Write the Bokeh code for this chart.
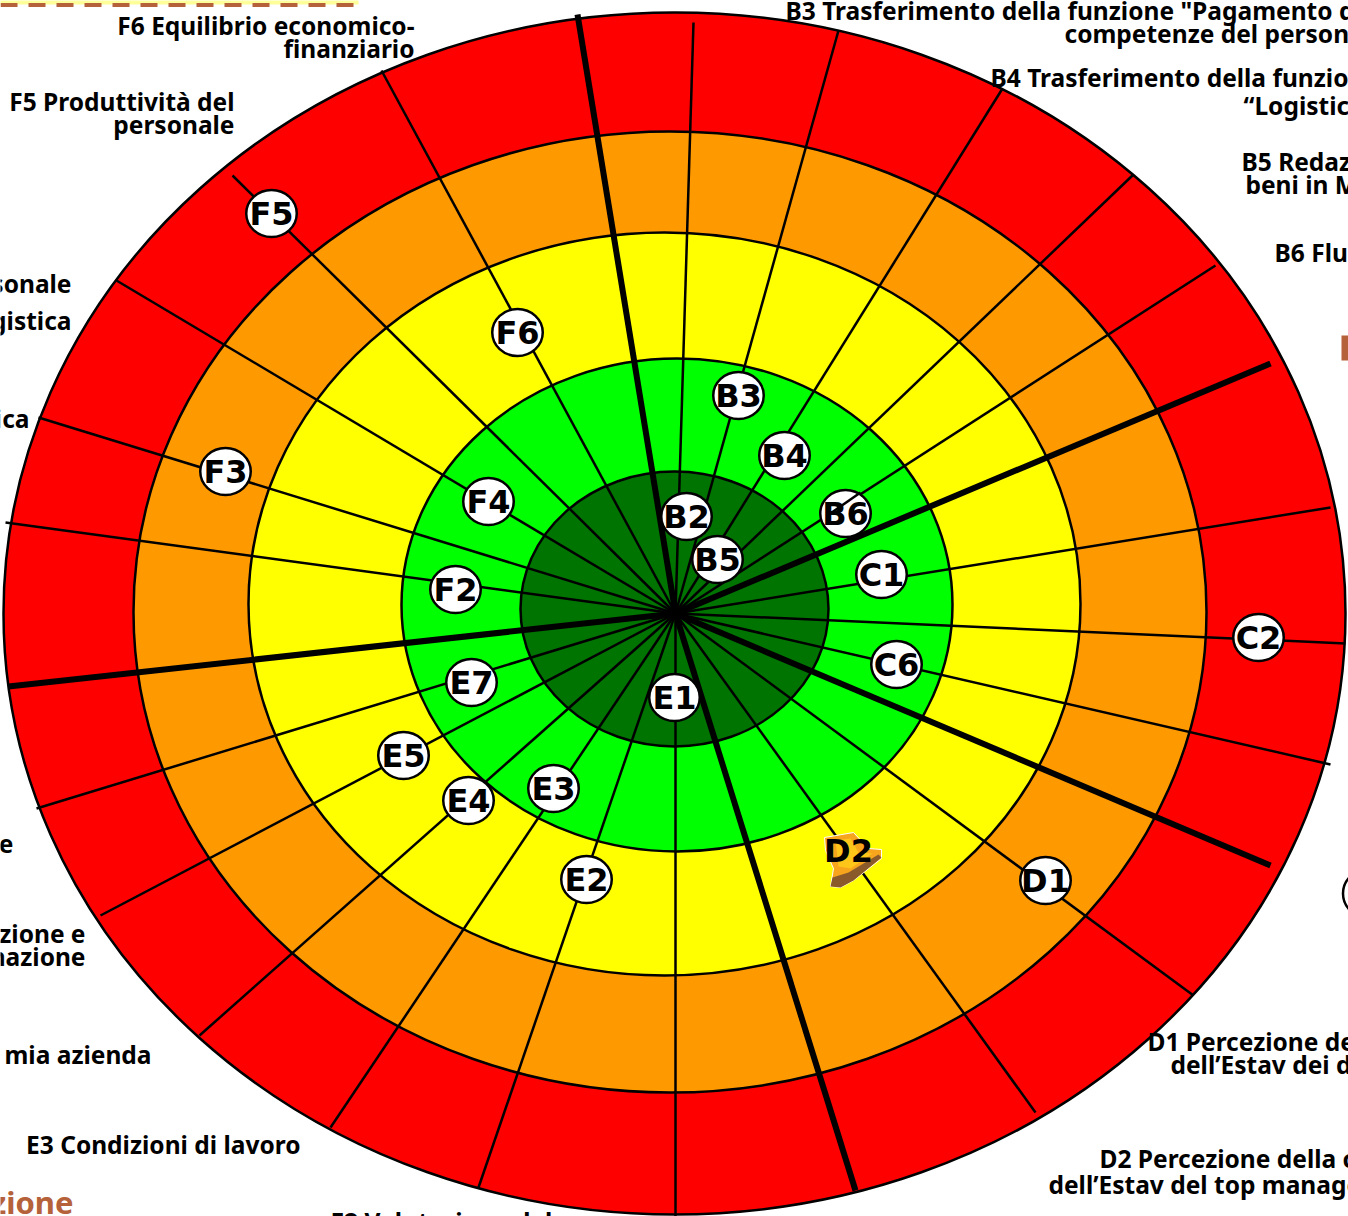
from bokeh.plotting import figure
from bokeh.models import Range1d
from bokeh.core.properties import value
from bokeh.embed import file_html
from bokeh.resources import INLINE

# rings, outer to inner
ring_colors = ["#ff0000", "#ff9900", "#ffff00", "#00ff00", "#007400"]
ring_cx = [674, 669.5, 664, 676.5, 674]
ring_cy = [613, 611.5, 603.5, 604.5, 608.5]
ring_w = [1342, 1073, 832, 551, 308]
ring_h = [1202, 961, 743, 493, 275]

hub_x = 675
hub_y = 613
spoke_x = [693, 838, 1002, 1133, 1215, 1330, 1345, 1330, 1193, 1035, 675, 478, 330, 199, 100, 36, 5, 38, 116, 232, 381]
spoke_y = [22, 30, 88, 174, 265, 507, 643, 764, 995, 1112, 1216, 1187, 1127, 1035, 915, 808, 522, 417, 280, 175, 70]
divider_x = [577, 1270, 1270, 855, 8]
divider_y = [14, 363, 865, 1190, 686]

marker_names = ["F5", "F6", "B3", "B4", "B6", "C1", "C2", "C6", "D1", "E1", "E2", "E3", "E4", "E5", "E7", "F2", "F3", "F4", "B2", "B5"]
marker_x = [271, 517, 738, 784, 845, 881, 1258, 896, 1045, 674, 586, 553, 468, 403, 471, 455, 225, 488, 686, 717]
marker_y = [213, 332, 395, 455, 513, 574, 637, 664, 880, 697, 879, 788, 800, 755, 682, 589, 471, 501, 516, 559]

bell_x = [824, 853, 868, 881, 881, 853, 840, 830, 833, 825]
bell_y = [837, 832, 848, 849, 858, 880, 887, 886, 868, 850]
bell_inner_x = [835, 850, 858, 872, 850, 838]
bell_inner_y = [840, 838, 852, 853, 868, 866]
bell_base_x = [881, 853, 840, 830, 832, 848, 878]
bell_base_y = [857, 880, 887, 886, 877, 872, 854]

labels_right = [
    ("F6 Equilibrio economico-", 414, 25), ("finanziario", 414, 48),
    ("F5 Produttività del", 234, 101), ("personale", 234, 124),
    ("sonale", 71, 283), ("gistica", 71, 320), ("ica", 29, 418), ("e", 13, 843),
    ("zione e", 85, 933), ("nazione", 85, 956), ("mia azienda", 151, 1054),
    ("E3 Condizioni di lavoro", 300, 1144),
]
labels_left = [
    ("B3 Trasferimento della funzione \"Pagamento d", 785, 10), ("competenze del persona", 1064, 33),
    ("B4 Trasferimento della funzion", 990, 77), ("“Logistic", 1243, 105),
    ("B5 Redaz", 1241, 161), ("beni in  M", 1245, 184), ("B6 Flu", 1274, 252),
    ("D1 Percezione de", 1147, 1041), ("dell’Estav dei d", 1170, 1064),
    ("D2 Percezione della c", 1099, 1158), ("dell’Estav del top manage", 1048, 1184),
    ("E2 Valutazione del", 330, 1221),
]
section_label = ("zione", 73, 1201)

FONT = value("Noto Sans")
MARKER_FONT = value("DejaVu Sans")

p = figure(width=1348, height=1216, output_backend="svg", toolbar_location=None,
           x_range=Range1d(0, 1348), y_range=Range1d(1216, 0),
           x_axis_type=None, y_axis_type=None, min_border=0, outline_line_color=None)
p.grid.visible = False

# fragments of the slide's other shapes at the edges
p.quad(left=[-5], right=[358], top=[-5], bottom=[4], fill_color="#ffff99", line_color=None)
p.line([0, 358, 358], [4.5, 4.5, 0], line_color="#b5613a", line_width=4, line_dash="17 11")
p.quad(left=[1341], right=[1350], top=[335], bottom=[360], fill_color="#b5613a", line_color=None)
p.ellipse([1368], [893], width=51, height=49, fill_color="white", line_color="black", line_width=2.5)

p.ellipse(ring_cx, ring_cy, width=ring_w, height=ring_h, fill_color=ring_colors,
          line_color="black", line_width=2.5)

p.segment([hub_x] * len(spoke_x), [hub_y] * len(spoke_y), spoke_x, spoke_y,
          line_color="black", line_width=2.5)
p.segment([hub_x] * len(divider_x), [hub_y] * len(divider_y), divider_x, divider_y,
          line_color="black", line_width=6)

p.ellipse(marker_x, marker_y, width=50.5, height=47, fill_color="white",
          line_color="black", line_width=2.5)
# the B6 spoke runs over its marker
p.segment([827], [515], [860], [492], line_color="black", line_width=2.5)

p.patch(bell_x, bell_y, fill_color="#f7a51c", line_color="white", line_width=1)
p.patch(bell_inner_x, bell_inner_y, fill_color="#ffc61a", line_color=None)
p.patch(bell_base_x, bell_base_y, fill_color="#8a5a2b", line_color=None)

p.text(marker_x, marker_y, text=marker_names, text_font=MARKER_FONT, text_font_style="bold",
       text_font_size="32px", text_align="center", text_baseline="middle", text_color="black")
p.text([848], [850], text=["D2"], text_font=MARKER_FONT, text_font_style="bold",
       text_font_size="32px", text_align="center", text_baseline="middle", text_color="black")

p.text([l[1] for l in labels_right], [l[2] for l in labels_right], text=[l[0] for l in labels_right],
       text_font=FONT, text_font_style="bold", text_font_size="24.5px", text_align="right",
       text_baseline="middle", text_color="black")
p.text([l[1] for l in labels_left], [l[2] for l in labels_left], text=[l[0] for l in labels_left],
       text_font=FONT, text_font_style="bold", text_font_size="24.5px", text_align="left",
       text_baseline="middle", text_color="black")
p.text([section_label[1]], [section_label[2]], text=[section_label[0]], text_font=FONT,
       text_font_style="bold", text_font_size="31px", text_align="right",
       text_baseline="middle", text_color="#b5613a")

open("out.html", "w").write(file_html(p, INLINE))
